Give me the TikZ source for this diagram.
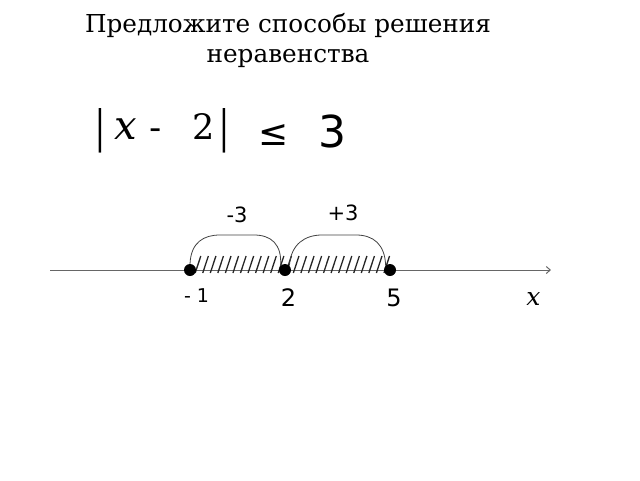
\documentclass[tikz,border=0pt]{standalone}
\usepackage{fontspec}
\setmainfont{DejaVu Serif}
\newfontfamily\sansf{DejaVu Sans}
\newfontfamily\barf{Liberation Serif}
\usetikzlibrary{arrows.meta}
\begin{document}
\begin{tikzpicture}[x=1pt,y=-1pt,
  txt/.style={anchor=base,inner sep=0pt,text=black},
  axisline/.style={draw=black!60,line width=1pt},
  dotnode/.style={circle,fill=black,inner sep=0pt,minimum size=12pt},
  arcline/.style={draw=black!75,line width=0.8pt},
  hatchline/.style={draw=black!85,line width=1.3pt}]
\useasboundingbox (0,0) rectangle (640,480);
% title
\node[txt,font=\fontsize{24.7}{29}\selectfont] (t1) at (288,32) {Предложите способы решения};
\node[txt,font=\fontsize{24.7}{29}\selectfont] (t2) at (288,62) {неравенства};
% formula
\node[txt,font=\barf\fontsize{49}{52}\selectfont] (bl) at (100.5,142) {|};
\node[txt,font=\itshape\fontsize{40}{44}\selectfont] (fx) at (125.5,139) {x};
\node[txt,font=\sansf\fontsize{34}{36}\selectfont] (fm) at (156,139) {-};
\node[txt,font=\fontsize{35}{38}\selectfont] (f2) at (204,139) {2};
\node[txt,font=\barf\fontsize{49}{52}\selectfont] (br) at (224,142) {|};
\node[txt,font=\sansf\fontsize{36}{40}\selectfont] (fle) at (273.5,145) {≤};
\node[txt,font=\sansf\fontsize{44}{48}\selectfont] (f3) at (332.5,147) {3};
% axis
\coordinate (ax0) at (50,270);
\coordinate (ax1) at (551,270);
\draw[axisline,-{Straight Barb[length=4pt,width=7pt]}] (ax0) -- (ax1);
% hatching
\foreach \i in {0,...,25}{
  \draw[hatchline] ({198+\i*7.55-2.8},273) -- ({198+\i*7.55+2.8},256);
}
% dots
\node[dotnode] (d1) at (190,270) {};
\node[dotnode] (d2) at (285,270) {};
\node[dotnode] (d3) at (390,270) {};
% arcs
\draw[arcline] (d1.north) .. controls (191,242) and (204,235) .. (220,235) -- (254,235) .. controls (271,235) and (282,244) .. (d2.north west);
\draw[arcline] (d2.north east) .. controls (291,244) and (305,235) .. (322,235) -- (356,235) .. controls (373,235) and (385,244) .. (d3.north west);
% labels
\node[txt,font=\sansf\fontsize{21}{24}\selectfont] (lm3) at (237,222) {-3};
\node[txt,font=\sansf\fontsize{21}{24}\selectfont] (lp3) at (343,220) {+3};
\node[txt,font=\sansf\fontsize{19}{22}\selectfont] (lm1) at (196.5,302) {- 1};
\node[txt,font=\sansf\fontsize{24}{28}\selectfont] (l2) at (288.5,306) {2};
\node[txt,font=\sansf\fontsize{24}{28}\selectfont] (l5) at (394,306) {5};
\node[txt,font=\itshape\fontsize{25}{28}\selectfont] (lx) at (533.5,305) {x};
\end{tikzpicture}
\end{document}
